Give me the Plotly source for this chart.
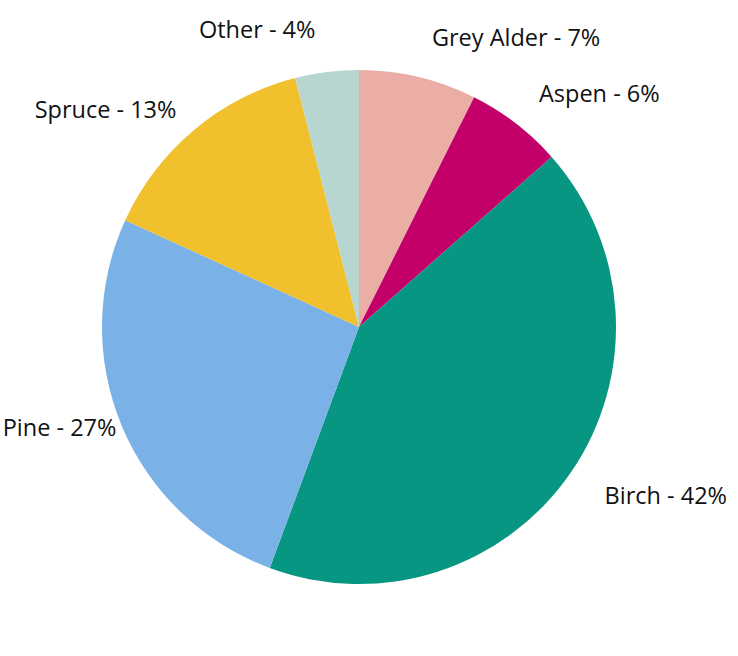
import plotly.graph_objects as go

species = ["Grey Alder", "Aspen", "Birch", "Pine", "Spruce", "Other"]
shares = [7.4, 6.1, 42.2, 26.2, 14.2, 4.0]
share_labels = ["7%", "6%", "42%", "27%", "13%", "4%"]
colors = ["#EBAEA6", "#C3006A", "#069682", "#7AB1E6", "#F0C02D", "#B7D6CF"]

texts = [f"{s} - {p}" for s, p in zip(species, share_labels)]

W, H = 738, 656
cx, cy, r = 359, 327, 257
# label distance (radius of the invisible pie that carries each label)
label_radius = {"Grey Alder": 282, "Aspen": 282, "Birch": 288,
                "Pine": 254, "Spruce": 272, "Other": 284}


def dom(rad):
    return dict(x=[(cx - rad) / W, (cx + rad) / W],
                y=[(H - cy - rad) / H, (H - cy + rad) / H])


traces = []
for i, name in enumerate(species):
    t = ["" for _ in species]
    t[i] = texts[i]
    traces.append(go.Pie(
        labels=species, values=shares, text=t,
        textinfo="text", textposition="outside",
        sort=False, direction="clockwise", rotation=0,
        marker=dict(colors=["rgba(0,0,0,0)"] * len(species), line=dict(width=0)),
        textfont=dict(family="Open Sans", size=23.5, color="#111111"),
        showlegend=False, hoverinfo="skip", domain=dom(label_radius[name]),
    ))

traces.append(go.Pie(
    labels=species, values=shares,
    textinfo="none",
    sort=False, direction="clockwise", rotation=0,
    marker=dict(colors=colors, line=dict(width=0)),
    showlegend=False, domain=dom(r),
    hoverinfo="label+percent",
))
fig = go.Figure(traces)
fig.update_layout(
    width=W, height=H,
    margin=dict(l=0, r=0, t=0, b=0, autoexpand=False),
    paper_bgcolor="white", plot_bgcolor="white",
)
fig.write_html("out.html")
